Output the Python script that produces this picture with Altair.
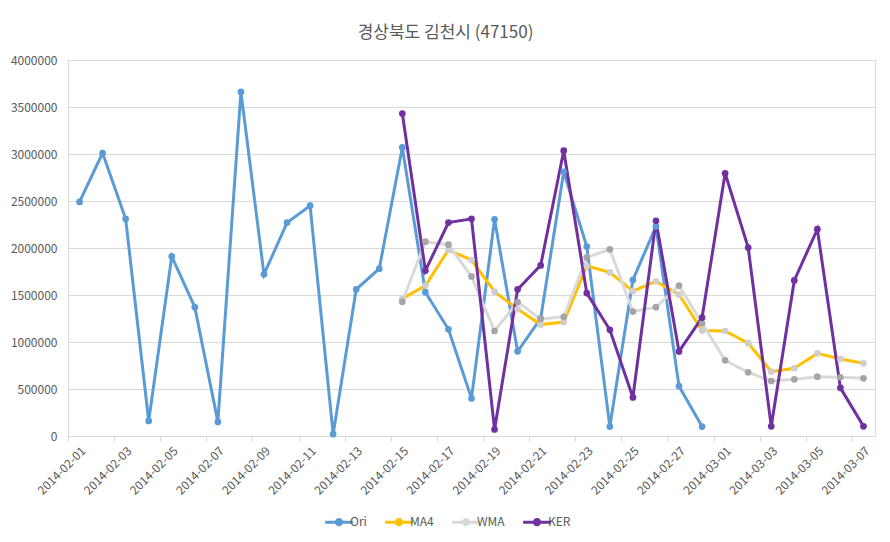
import altair as alt
import pandas as pd

dates = pd.date_range("2014-02-01", "2014-03-07").strftime("%Y-%m-%d").tolist()

ori = [2490000, 3010000, 2310000, 160000, 1910000, 1370000, 150000, 3660000,
       1720000, 2270000, 2450000, 20000, 1560000, 1780000, 3070000, 1530000,
       1135000, 400000, 2305000, 901000, 1250000, 2810000, 2015000, 100000,
       1660000, 2230000, 530000, 100000]
ma4 = [1460000, 1600000, 1980000, 1872000, 1535000, 1350000, 1185000, 1212000,
       1810000, 1740000, 1542000, 1645000, 1505000, 1122000, 1117000, 988000,
       684000, 720000, 880000, 820000, 773000]
wma = [1429000, 2067000, 2035000, 1698000, 1117000, 1425000, 1246000, 1268000,
       1901000, 1986000, 1324000, 1370000, 1600000, 1199000, 805000, 678000,
       585000, 603000, 631000, 624000, 614000]
ker = [3430000, 1760000, 2270000, 2310000, 70000, 1560000, 1815000, 3035000,
       1520000, 1130000, 410000, 2290000, 900000, 1260000, 2795000, 2005000,
       103000, 1655000, 2200000, 512000, 103000]

series_names = ["Ori", "MA4", "WMA", "KER"]
line_colors = ["#5B9BD5", "#FFC000", "#D9D9D9", "#7030A0"]
marker_colors = ["#5B9BD5", "#D0CECE", "#A5A5A5", "#7030A0"]

rows = []
for name, vals, start in [("Ori", ori, 0), ("MA4", ma4, 14), ("WMA", wma, 14), ("KER", ker, 14)]:
    for i, v in enumerate(vals):
        rows.append({"date": dates[start + i], "series": name, "value": v})
df = pd.DataFrame(rows)

W = 807
H = 376
step = W / len(dates)
FONT = "Noto Sans CJK KR"

x = alt.X("date:O",
          scale=alt.Scale(type="point", padding=0.5, domain=dates),
          sort=dates,
          axis=alt.Axis(title=None, values=dates[::2], labelAngle=-45,
                        tickOffset=-step / 2, labelOffset=step / 2,
                        domainColor="#D9D9D9", tickColor="#D9D9D9", tickSize=5,
                        labelColor="#595959", labelFontSize=12, labelFont=FONT,
                        grid=False, labelPadding=4))
y = alt.Y("value:Q",
          scale=alt.Scale(domain=[0, 4000000], nice=False),
          axis=alt.Axis(title=None, values=list(range(0, 4000001, 500000)), format="d",
                        domain=False, ticks=False, gridColor="#D9D9D9",
                        labelColor="#595959", labelFontSize=12, labelFont=FONT,
                        labelPadding=11))

legend_symbol = "M-2.2,0L2.2,0M-0.42,0A0.42,0.42 0 1,0 0.42,0A0.42,0.42 0 1,0 -0.42,0Z"
leg = alt.Legend(title=None, orient="none", legendX=263, legendY=454, direction="horizontal",
                 symbolType=legend_symbol, symbolSize=160, symbolStrokeWidth=3,
                 labelColor="#595959", labelFontSize=12, labelFont=FONT,
                 columnPadding=12, symbolOffset=0, labelOffset=3)

base = alt.Chart(df)
lines = base.mark_line(strokeWidth=3).encode(
    x=x, y=y,
    stroke=alt.Stroke("series:N", scale=alt.Scale(domain=series_names, range=line_colors),
                      legend=leg),
    order=alt.Order("date:O"),
    detail="series:N",
)
points = base.mark_point(filled=True, size=45, opacity=1).encode(
    x=x, y=y,
    fill=alt.Fill("series:N", scale=alt.Scale(domain=series_names, range=marker_colors),
                  legend=leg),
)

chart = alt.layer(lines, points).properties(
    width=W, height=H,
    autosize=alt.AutoSizeParams(type="none"),
    padding={"left": 60, "top": 52, "right": 7, "bottom": 98},
    title=alt.TitleParams("경상북도 김천시 (47150)", font=FONT, fontSize=17, fontWeight="normal",
                          color="#595959", anchor="middle", dx=-26, offset=12),
).configure_view(stroke=None).configure(background="white")

chart.save("out.html", embed_options={"renderer": "svg", "actions": False})
